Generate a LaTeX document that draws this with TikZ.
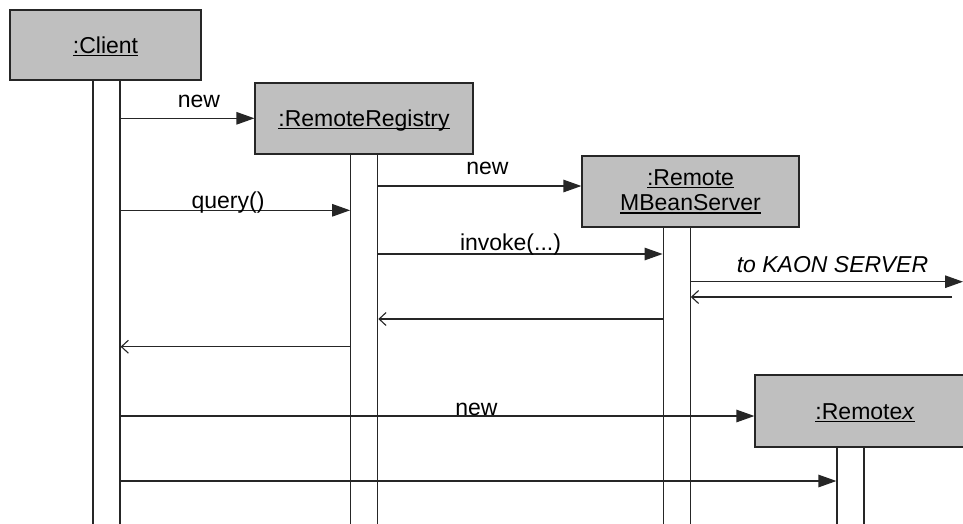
\documentclass[tikz,border=0pt]{standalone}
\usepackage{fontspec}
\setmainfont{Liberation Sans}
\usetikzlibrary{arrows.meta}
\newsavebox\ulbox
\newcommand{\ulin}[1]{\sbox\ulbox{#1}\rlap{\rule[-2.6pt]{\wd\ulbox}{1.1pt}}\usebox\ulbox}
\begin{document}
\begin{tikzpicture}[x=1pt,y=-1pt,
  font=\fontsize{23}{25.7}\selectfont,
  obj/.style={draw=black!85, fill=black!25, line width=1.2pt, inner sep=0pt},
  one/.style={text height=16.5pt, text depth=0pt},
  bar/.style={draw=black!85, line width=1.2pt, minimum width=27pt, minimum height=460pt, anchor=north, inner sep=0pt},
  call/.style={draw=black!85, line width=1.2pt, -{Triangle[length=18pt,width=12.5pt]}},
  ret/.style={draw=black!85, line width=1.1pt, -{Straight Barb[length=7pt,width=13pt,line width=1.1pt]}},
  lbl/.style={anchor=base, inner sep=0pt}]
\useasboundingbox (0,0) rectangle (963,523);
\clip (0,0) rectangle (963,523);
\fill[white] (0,0) rectangle (963,523);

% objects
\node[obj, one, minimum width=191pt, minimum height=70pt] (client) at (105.5,45) {\ulin{:Client}};
\node[obj, one, minimum width=218pt, minimum height=71pt] (registry) at (364,118.5) {\ulin{:RemoteRegistry}};
\node[obj, minimum width=217pt, minimum height=71pt, align=center] (mbean) at (690.5,191.5) {\ulin{:Remote}\\\ulin{MBeanServer}};
\node[obj, one, minimum width=220pt, minimum height=72pt] (remotex) at (865,411) {\ulin{:Remote\textit{x}}};

% activation bars
\node[bar] (cbar) at (106.5,80) {};
\node[bar] (rbar) at (364.2,154) {};
\node[bar] (mbar) at (676.7,227) {};
\node[bar] (xbar) at (850.5,447) {};

% message levels
\coordinate (y1) at (0,118.3);
\coordinate (y2) at (0,186);
\coordinate (y3) at (0,210.3);
\coordinate (y4) at (0,254);
\coordinate (y5) at (0,281.7);
\coordinate (y6) at (0,297);
\coordinate (y7) at (0,319);
\coordinate (y8) at (0,346.7);
\coordinate (y9) at (0,416);
\coordinate (y10) at (0,481);
\coordinate (kaon) at (963,281.7);
\coordinate (kaonret) at (952,297);

% messages
\draw[call] (cbar.east |- y1) -- (registry.west |- y1);
\node[lbl] (l1) at (199,107) {new};
\draw[call] (rbar.east |- y2) -- (mbean.west |- y2);
\node[lbl] (l2) at (487.5,174) {new};
\draw[call] (cbar.east |- y3) -- (rbar.west |- y3);
\node[lbl] (l3) at (228,208) {query()};
\draw[call] (rbar.east |- y4) -- (mbar.west |- y4);
\node[lbl] (l4) at (510.5,250) {invoke(...)};
\draw[call] (mbar.east |- y5) -- (kaon);
\node[lbl] (l5) at (832.5,272) {\textit{to KAON SERVER}};
\draw[ret] (kaonret) -- (mbar.east |- y6);
\draw[ret] (mbar.west |- y7) -- (rbar.east |- y7);
\draw[ret] (rbar.west |- y8) -- (cbar.east |- y8);
\draw[call] (cbar.east |- y9) -- (remotex.west |- y9);
\node[lbl] (l6) at (476.5,415.7) {new};
\draw[call] (cbar.east |- y10) -- (xbar.west |- y10);
\end{tikzpicture}
\end{document}
